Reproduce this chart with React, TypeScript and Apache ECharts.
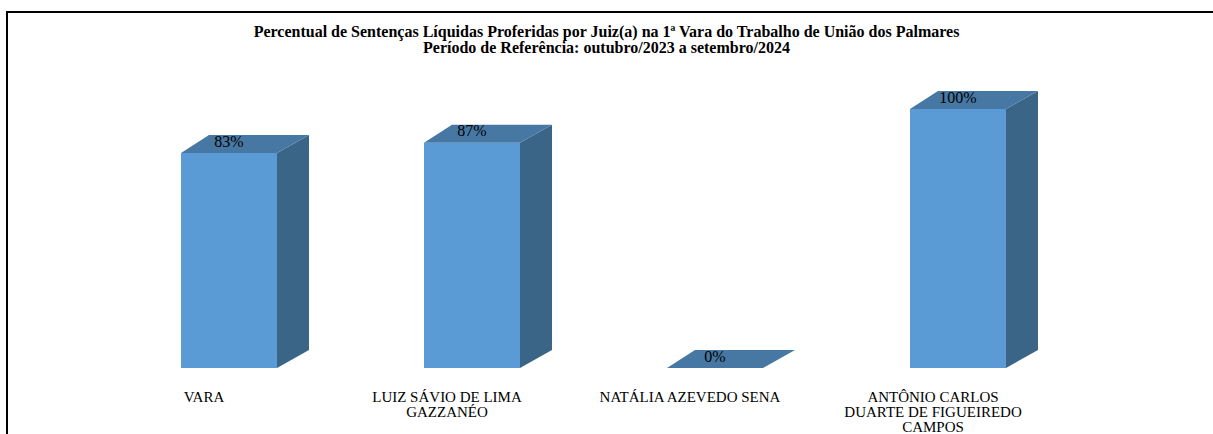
import React, { useEffect, useRef } from "react";
import * as echarts from "echarts";

const categories = [
  "VARA",
  "LUIZ SÁVIO DE LIMA GAZZANÉO",
  "NATÁLIA AZEVEDO SENA",
  "ANTÔNIO CARLOS DUARTE DE FIGUEIREDO CAMPOS",
];
const tickLabels = [
  "VARA",
  "LUIZ SÁVIO DE LIMA\nGAZZANÉO",
  "NATÁLIA AZEVEDO SENA",
  "ANTÔNIO CARLOS\nDUARTE DE FIGUEIREDO\nCAMPOS",
];
const percentValues = [83, 87, 0, 100];
const titleLines = [
  "Percentual de Sentenças Líquidas Proferidas por Juiz(a) na 1ª Vara do Trabalho de União dos Palmares",
  "Período de Referência: outubro/2023 a setembro/2024",
];

const FONT = "Liberation Serif";

export default function App() {
  const ref = useRef<HTMLDivElement>(null);

  useEffect(() => {
    if (!ref.current) return;
    const chart = echarts.init(ref.current, null, { renderer: "svg" });

    const renderItem = (params: any, api: any) => {
      const idx = api.value(0);
      const v = api.value(1);
      const base = api.coord([idx, 0]);
      const top = api.coord([idx, v]);
      const w = api.size([1, 0])[0] * 0.395;
      const x0 = base[0] - w / 2;
      const x1 = base[0] + w / 2;
      const yb = base[1];
      const yt = top[1];
      const dxL = 28;
      const dxR = 32;
      const dy = 18;
      const children: any[] = [];
      if (yb - yt > 0.5) {
        children.push({
          type: "polygon",
          shape: { points: [[x0, yt], [x1, yt], [x1, yb], [x0, yb]] },
          style: { fill: "#5B9BD5" },
        });
        children.push({
          type: "polygon",
          shape: { points: [[x1, yt], [x1 + dxR, yt - dy], [x1 + dxR, yb - dy], [x1, yb]] },
          style: { fill: "#3A6587" },
        });
      }
      children.push({
        type: "polygon",
        shape: { points: [[x0, yt], [x1, yt], [x1 + dxR, yt - dy], [x0 + dxL, yt - dy]] },
        style: { fill: "#4777A3" },
      });
      children.push({
        type: "text",
        x: base[0],
        y: yt - 12,
        style: {
          text: v + "%",
          fill: "#000",
          fontFamily: FONT,
          fontSize: 16,
          align: "center",
          verticalAlign: "middle",
        },
      });
      return { type: "group", children };
    };

    chart.setOption({
      animation: false,
      backgroundColor: "#fff",
      title: {
        text: titleLines.join("\n"),
        left: "center",
        top: 23,
        padding: 0,
        textStyle: {
          fontFamily: FONT,
          fontWeight: "bold",
          fontSize: 16,
          lineHeight: 16,
          color: "#000",
        },
      },
      graphic: [
        {
          type: "rect",
          shape: { x: 7, y: 12, width: 1400, height: 600 },
          style: { fill: "none", stroke: "#000", lineWidth: 2 },
          silent: true,
        },
      ],
      grid: { left: 107.5, right: 133.5, top: 109, bottom: 65 },
      xAxis: {
        type: "category",
        data: categories,
        axisLine: { show: false },
        axisTick: { show: false },
        axisLabel: {
          interval: 0,
          margin: 21,
          color: "#000",
          fontFamily: FONT,
          fontSize: 15,
          lineHeight: 15,
          padding: [0, 50, 0, 0],
          formatter: (_v: string, i: number) => tickLabels[i],
        },
      },
      yAxis: {
        type: "value",
        min: 0,
        max: 100,
        show: false,
        splitLine: { show: false },
      },
      series: [
        {
          type: "custom",
          renderItem,
          encode: { x: 0, y: 1 },
          data: percentValues.map((v, i) => [i, v]),
          clip: false,
        },
      ],
    });

    return () => chart.dispose();
  }, []);

  return (
    <div
      ref={ref}
      style={{ position: "fixed", left: 0, top: 0, width: 1213, height: 434 }}
    />
  );
}
